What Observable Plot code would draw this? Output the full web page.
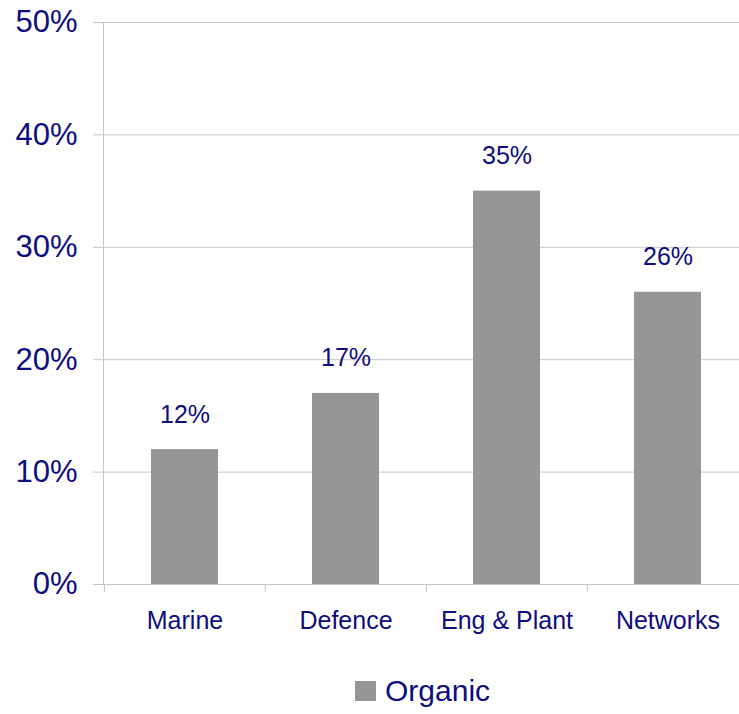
<!DOCTYPE html>
<html>
<head>
<meta charset="utf-8">
<script src="https://cdn.jsdelivr.net/npm/d3@7"></script>
<script src="https://cdn.jsdelivr.net/npm/@observablehq/plot@0.6"></script>
<style>
  body { margin: 0; background: #fff; font-family: "Liberation Sans", Arial, sans-serif; }
  #wrap { position: relative; width: 739px; height: 714px; }
  #legend { position: absolute; left: 355px; top: 676px; display: flex; align-items: center; color: #0d0d80; font-size: 30px; line-height: 1; }
  #legend .sw { width: 21px; height: 20px; background: #969696; margin-right: 9px; }
</style>
</head>
<body>
<div id="wrap">
  <div id="chart"></div>
  <div id="legend"><div class="sw"></div><span id="lbl"></span></div>
</div>
<script>
const categories = ["Marine", "Defence", "Eng & Plant", "Networks"];
const values = [0.12, 0.17, 0.35, 0.26];
const yTicks = [0, 0.1, 0.2, 0.3, 0.4, 0.5];
const seriesName = "Organic";

const navy = "#0d0d80";
const grey = "#c6c6c6";
const barColor = "#969696";
const pct = d3.format(".0%");

const data = categories.map((c, i) => ({category: c, value: values[i]}));

const xRange = [103, 748];
const step = (xRange[1] - xRange[0]) / categories.length;

const chart = Plot.plot({
  width: 739,
  height: 650,
  marginTop: 22,
  marginBottom: 66,
  marginLeft: 103,
  marginRight: 0,
  style: {fontFamily: "'Liberation Sans', Arial, sans-serif", background: "white", overflow: "visible"},
  x: {domain: categories, range: xRange, paddingInner: 0.584, paddingOuter: 0.292, axis: null, label: null},
  y: {domain: [0, 0.5], axis: null, label: null},
  marks: [
    Plot.gridY(yTicks, {stroke: grey, strokeOpacity: 1}),
    Plot.axisY(yTicks, {tickSize: 10, tickFormat: () => "", stroke: grey, strokeOpacity: 1, label: null}),
    Plot.axisY(yTicks, {tickSize: 0, tickPadding: 26, tickFormat: pct, fontSize: 31, fill: navy, label: null}),
    Plot.ruleY([0], {stroke: grey}),
    Plot.frame({anchor: "left", stroke: grey}),
    Plot.axisX({tickSize: 8, tickFormat: () => "", dx: -step / 2, stroke: grey, strokeOpacity: 1, label: null}),
    Plot.axisX({tickSize: 0, tickPadding: 27, fontSize: 25, fill: navy, label: null}),
    Plot.barY(data, {x: "category", y: "value", fill: barColor}),
    Plot.text(data, {x: "category", y: "value", text: d => pct(d.value), dy: -27, lineAnchor: "bottom", fontSize: 25, fill: navy})
  ]
});
document.getElementById("chart").appendChild(chart);
document.getElementById("lbl").textContent = seriesName;
</script>
</body>
</html>
